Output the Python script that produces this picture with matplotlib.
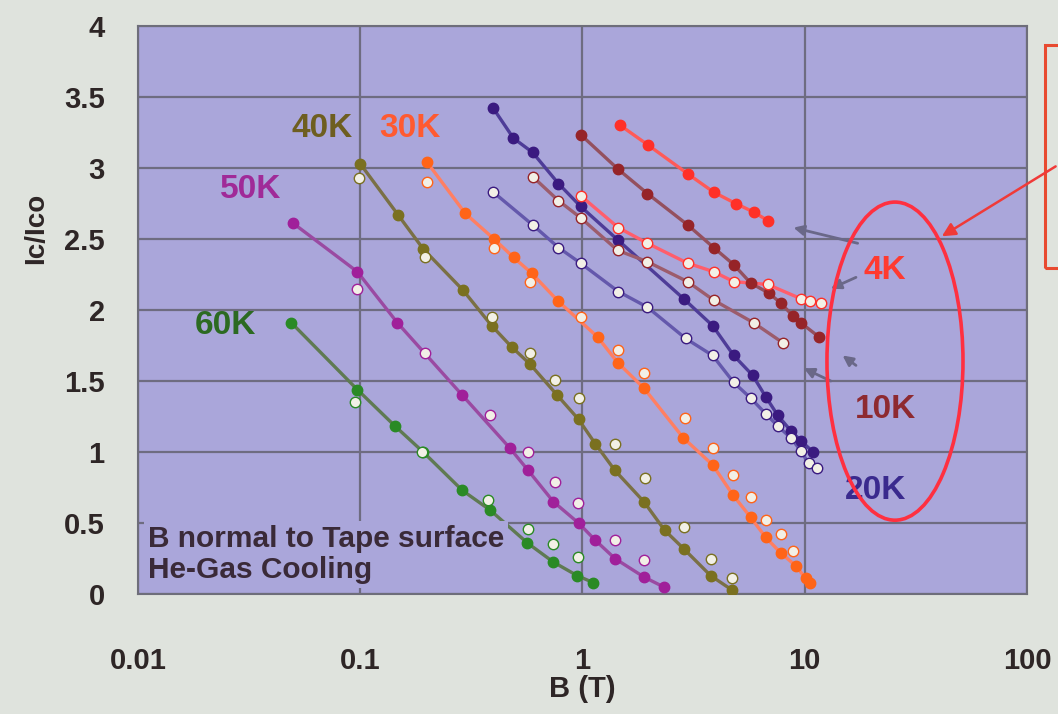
import numpy as np
import matplotlib
matplotlib.use("Agg")
import matplotlib.pyplot as plt
import matplotlib.patches as patches

plt.rcParams["font.family"] = ["Liberation Sans", "DejaVu Sans"]
plt.rcParams["font.weight"] = "bold"

# ---------------------------------------------------------------
# data: B (T) and Ic/Ico
# "_f" = filled markers, "_o" = open markers
# ---------------------------------------------------------------
b60_f = [0.049, 0.097, 0.144, 0.192, 0.288, 0.385, 0.565, 0.74, 0.946, 1.12]
i60_f = [1.91, 1.44, 1.18, 1.00, 0.73, 0.59, 0.36, 0.225, 0.13, 0.08]
b60_o = [0.095, 0.19, 0.377, 0.57, 0.74, 0.95]
i60_o = [1.35, 1.00, 0.66, 0.46, 0.35, 0.26]

b50_f = [0.050, 0.097, 0.147, 0.288, 0.47, 0.57, 0.74, 0.96, 1.14, 1.40, 1.89, 2.32]
i50_f = [2.61, 2.27, 1.91, 1.40, 1.03, 0.87, 0.65, 0.50, 0.38, 0.25, 0.12, 0.05]
b50_o = [0.097, 0.195, 0.385, 0.57, 0.75, 0.95, 1.40, 1.89]
i50_o = [2.15, 1.70, 1.26, 1.00, 0.79, 0.64, 0.38, 0.24]

b40_f = [0.100, 0.148, 0.192, 0.29, 0.39, 0.48, 0.58, 0.77, 0.96, 1.14, 1.40,
         1.89, 2.34, 2.85, 3.77, 4.69]
i40_f = [3.03, 2.67, 2.43, 2.14, 1.89, 1.74, 1.62, 1.40, 1.23, 1.06, 0.87,
         0.65, 0.45, 0.32, 0.13, 0.03]
b40_o = [0.099, 0.195, 0.39, 0.58, 0.75, 0.96, 1.40, 1.92, 2.85, 3.77, 4.69]
i40_o = [2.93, 2.37, 1.95, 1.70, 1.51, 1.38, 1.06, 0.82, 0.47, 0.25, 0.11]

b30_f = [0.200, 0.297, 0.40, 0.49, 0.59, 0.78, 1.17, 1.44, 1.89, 2.84, 3.85,
         4.74, 5.71, 6.67, 7.79, 9.1, 10.1, 10.6]
i30_f = [3.04, 2.68, 2.50, 2.37, 2.26, 2.06, 1.81, 1.63, 1.45, 1.10, 0.91,
         0.70, 0.54, 0.40, 0.29, 0.20, 0.11, 0.08]
b30_o = [0.20, 0.40, 0.58, 0.98, 1.45, 1.89, 2.9, 3.85, 4.74, 5.71, 6.67, 7.79, 8.9]
i30_o = [2.90, 2.44, 2.20, 1.95, 1.72, 1.56, 1.24, 1.03, 0.84, 0.68, 0.52, 0.42, 0.30]

b20_f = [0.397, 0.489, 0.596, 0.78, 0.98, 1.45, 2.85, 3.85, 4.79, 5.83, 6.67,
         7.55, 8.65, 9.6, 10.9]
i20_f = [3.42, 3.21, 3.11, 2.89, 2.73, 2.49, 2.08, 1.89, 1.68, 1.54, 1.39,
         1.26, 1.15, 1.08, 1.00]
b20_o = [0.397, 0.596, 0.78, 0.98, 1.45, 1.96, 2.91, 3.85, 4.79, 5.71, 6.67,
         7.6, 8.65, 9.6, 10.4, 11.4]
i20_o = [2.83, 2.60, 2.44, 2.33, 2.13, 2.02, 1.80, 1.68, 1.49, 1.38, 1.27,
         1.18, 1.10, 1.01, 0.92, 0.89]

b10_f = [0.989, 1.45, 1.96, 2.97, 3.89, 4.79, 5.71, 6.88, 7.79, 8.83, 9.6, 11.6]
i10_f = [3.23, 2.99, 2.82, 2.60, 2.44, 2.32, 2.19, 2.12, 2.05, 1.96, 1.91, 1.81]
b10_o = [0.596, 0.78, 0.98, 1.44, 1.96, 2.97, 3.89, 5.89, 7.96]
i10_o = [2.94, 2.77, 2.65, 2.42, 2.34, 2.20, 2.07, 1.91, 1.77]

b4_f = [1.48, 1.98, 2.97, 3.89, 4.89, 5.89, 6.81]
i4_f = [3.30, 3.16, 2.96, 2.83, 2.75, 2.69, 2.63]
b4_o = [0.989, 1.45, 1.96, 2.97, 3.89, 4.79, 6.81, 9.6, 10.6, 11.8]
i4_o = [2.80, 2.58, 2.47, 2.33, 2.27, 2.20, 2.18, 2.08, 2.06, 2.05]

# temperature labels (text, B, Ic/Ico)
etiquetas = ["60K", "50K", "40K", "30K", "4K", "10K", "20K"]
etq_b = [0.0247, 0.032, 0.0675, 0.168, 23.0, 23.2, 20.9]
etq_i = [1.89, 2.85, 3.28, 3.28, 2.28, 1.30, 0.73]

# small pointer arrows near the curve ends: (tail B, tail I, head B, head I)
flechas_b0 = [17.3, 17.0, 17.0, 13.1]
flechas_i0 = [2.47, 2.23, 1.61, 1.50]
flechas_b1 = [8.9, 13.1, 14.8, 9.9]
flechas_i1 = [2.58, 2.15, 1.68, 1.59]

# ---------------------------------------------------------------
# styles
# ---------------------------------------------------------------
fondo = "#dfe3dd"
fondo_ax = "#aaa6da"
blanco = "#f2f0e6"
texto = "#2e2626"

fig = plt.figure(figsize=(10.58, 7.14), dpi=100, facecolor=fondo)
ax = fig.add_axes([0.1304, 0.168, 0.8403, 0.7956], facecolor=fondo_ax)

series = [
    # filled B, filled I, open B, open I, marker colour, line colour, open line colour
    (b60_f, i60_f, b60_o, i60_o, "#2a8a25", "#5f7a52", None),
    (b50_f, i50_f, b50_o, i50_o, "#a0209a", "#9a4aa2", None),
    (b40_f, i40_f, b40_o, i40_o, "#7a7020", "#7a7045", None),
    (b30_f, i30_f, b30_o, i30_o, "#ff6418", "#ff7f62", None),
    (b20_f, i20_f, b20_o, i20_o, "#3a1a80", "#4e3c98", "#6458ac"),
    (b10_f, i10_f, b10_o, i10_o, "#962428", "#94505e", "#9c5c6c"),
    (b4_f, i4_f, b4_o, i4_o, "#ff3028", "#ff5a58", "#ff5e6c"),
]

for bf, yf, bo, yo, cm, cl, clo in series:
    ax.plot(bf, yf, "-", color=cl, lw=2.4, zorder=2, solid_capstyle="round")
    if clo is not None:
        ax.plot(bo, yo, "-", color=clo, lw=2.4, zorder=2, solid_capstyle="round")
    ax.plot(bf, yf, "o", ms=7.5, mfc=cm, mec=cm, zorder=3)
    ax.plot(bo, yo, "o", ms=7.5, mfc=blanco, mec=cm, mew=1.0, zorder=3)

colores_etq = ["#2c6a22", "#a02a98", "#6e5e20", "#ff5a30", "#ff3a30", "#8e2a30", "#3a2a8e"]
for t, bx, iy, c in zip(etiquetas, etq_b, etq_i, colores_etq):
    ax.text(bx, iy, t, color=c, fontsize=24, fontweight="bold",
            ha="center", va="center", zorder=5)

ax.text(0.0111, 0.28, "B normal to Tape surface\nHe-Gas Cooling",
        fontsize=21.5, fontweight="bold", color="#3a2a38", linespacing=1.15,
        ha="left", va="center", zorder=4,
        bbox=dict(boxstyle="square,pad=0.12", fc=fondo_ax, ec="none"))

for x0, y0, x1, y1 in zip(flechas_b0, flechas_i0, flechas_b1, flechas_i1):
    ax.annotate("", xy=(x1, y1), xytext=(x0, y0), zorder=4,
                arrowprops=dict(arrowstyle="-|>,head_length=0.6,head_width=0.3",
                                color="#6a6888", lw=2.0, shrinkA=0, shrinkB=0))

# red ellipse round the low-temperature labels
ax.add_patch(patches.Ellipse((0.8515, 0.41), 0.153, 0.56, transform=ax.transAxes,
                             fill=False, ec="#ff3040", lw=2.6, zorder=6))

ax.set_xscale("log")
ax.set_xlim(0.01, 100)
ax.set_ylim(0, 4)
ax.set_yticks(np.arange(0, 4.01, 0.5))
ax.set_yticklabels(["0", "0.5", "1", "1.5", "2", "2.5", "3", "3.5", "4"])
ax.set_xticks([0.01, 0.1, 1, 10, 100])
ax.set_xticklabels(["0.01", "0.1", "1", "10", "100"])
ax.minorticks_off()
ax.tick_params(axis="both", length=0, labelsize=21, labelcolor=texto)
ax.tick_params(axis="x", pad=38)
ax.tick_params(axis="y", pad=24)
ax.grid(True, color="#6e6c80", lw=1.6)
ax.set_axisbelow(True)
for s in ax.spines.values():
    s.set_color("#6e6e7a")
    s.set_linewidth(1.5)

ax.set_xlabel("B (T)", fontsize=21, fontweight="bold", color=texto, labelpad=0)
fig.text(0.034, 0.68, "Ic/Ico", rotation=90, fontsize=20, fontweight="bold",
         color=texto, ha="center", va="center")

# slide decoration on the right: red box and red arrow
fig.patches.append(patches.Rectangle((0.988, 0.625), 0.05, 0.312, transform=fig.transFigure,
                                     fill=False, ec="#e84a30", lw=2.2))
fig.patches.append(patches.FancyArrowPatch((1.0, 0.769), (0.888, 0.667),
                                           transform=fig.transFigure, color="#f03a38",
                                           arrowstyle="-|>,head_length=8,head_width=4",
                                           lw=1.8))

fig.savefig("out.png", dpi=100, facecolor=fondo)
